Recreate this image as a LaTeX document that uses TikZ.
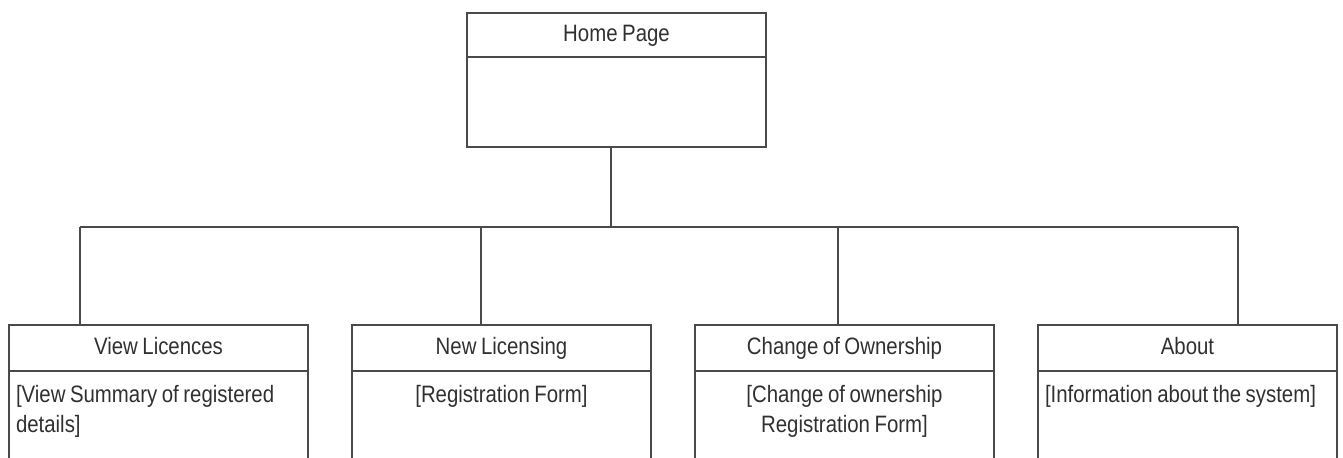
\documentclass[tikz,border=0pt]{standalone}
\usepackage{fontspec}
\setmainfont{Liberation Sans}[FakeStretch=0.86,WordSpace=0.8]
\usetikzlibrary{positioning,calc}
\definecolor{cline}{HTML}{4A4A4A}
\definecolor{ctext}{HTML}{303030}
\tikzset{
  hdr/.style={draw=cline,line width=1pt,outer sep=0pt,minimum width=5.98cm,inner sep=0pt,text height=0.98em,text depth=0.2em,text=ctext,font=\fontsize{13.5}{17}\selectfont},
  bdy/.style={draw=cline,line width=1pt,outer sep=0pt,minimum width=5.98cm,inner sep=0pt},
  txt/.style={text=ctext,font=\fontsize{13.5}{17}\selectfont,inner sep=0pt,text width=5.7cm},
  conn/.style={draw=cline,line width=1pt},
}

\begin{document}
\begin{tikzpicture}
\useasboundingbox (0,0) rectangle (26.86,-9.14);
\clip (0,0) rectangle (26.86,-9.14);

% ================= home page =================
\node[hdr,minimum height=0.88cm,anchor=north] (home) at (12.33,-0.26) {Home Page};
\node[bdy,minimum height=1.8cm,below=0pt of home] (homeb) {};

% ================= pages below =================
\node[hdr,minimum height=0.92cm,anchor=north west] (view) at (0.18,-6.5) {View Licences};
\node[bdy,minimum height=3cm,below=0pt of view] (viewb) {};
\node[hdr,minimum height=0.92cm,right=0.88cm of view] (new) {New Licensing};
\node[bdy,minimum height=3cm,below=0pt of new] (newb) {};
\node[hdr,minimum height=0.92cm,right=0.88cm of new] (chg) {Change of Ownership};
\node[bdy,minimum height=3cm,below=0pt of chg] (chgb) {};
\node[hdr,minimum height=0.92cm,right=0.88cm of chg] (about) {About};
\node[bdy,minimum height=3cm,below=0pt of about] (aboutb) {};

% page contents
\node[txt,align=flush left,anchor=north] (viewt) at ([yshift=-0.28cm]viewb.north) {[View Summary of registered\\details]};
\node[txt,align=flush center,anchor=north] (newt) at ([yshift=-0.28cm]newb.north) {[Registration Form]};
\node[txt,align=flush center,anchor=north] (chgt) at ([yshift=-0.28cm]chgb.north) {[Change of ownership\\Registration Form]};
\node[txt,align=flush left,anchor=north] (aboutt) at ([yshift=-0.28cm]aboutb.north) {[Information about the system]};

% ================= connectors =================
\coordinate (bus) at (0,-4.54);
\coordinate (home-out) at ([xshift=-0.11cm]homeb.south);
\foreach \n/\dx in {view/1.42, new/2.58, chg/2.86, about/4.0}{
  \coordinate (\n-in) at ([xshift=\dx cm]\n.north west);
  \draw[conn] (\n-in) -- (\n-in |- bus);
}
\draw[conn] (home-out) -- (home-out |- bus);
\draw[conn] (view-in |- bus) -- (about-in |- bus);
\end{tikzpicture}
\end{document}
